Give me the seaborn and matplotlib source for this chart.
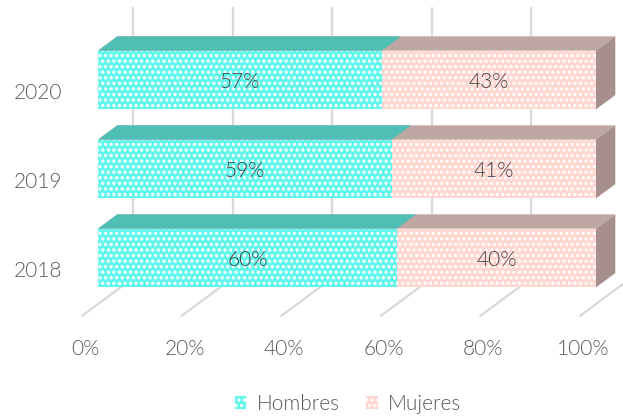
import matplotlib
matplotlib.use("Agg")
import pandas as pd
import seaborn as sns
from matplotlib import pyplot as plt, transforms
from matplotlib.patches import Patch, Polygon

# data
years = ["2020", "2019", "2018"]
hombres = [57, 59, 60]
mujeres = [43, 41, 40]
series = ["Hombres", "Mujeres"]
x_ticks = [0, 20, 40, 60, 80, 100]
x_tick_labels = ["0%", "20%", "40%", "60%", "80%", "100%"]

# styling
front = {"Hombres": "#5ff6ec", "Mujeres": "#ffd6d0"}
top = {"Hombres": "#4fbfb6", "Mujeres": "#bea6a2"}
side = {"Mujeres": "#a68f8c"}
grid_color = "#d9d9d9"
text_color = "#595959"
label_color = "#404040"

sns.set_style("white")
plt.rcParams["font.family"] = ["Lato", "DejaVu Sans"]
plt.rcParams["font.weight"] = 300
plt.rcParams["hatch.linewidth"] = 1.6

W, H = 623, 419
fig = plt.figure(figsize=(W / 100, H / 100), dpi=100)
ax = fig.add_axes([98 / W, 1 - 347 / H, 498 / W, (347 - 13.25) / H])

df = pd.DataFrame({"year": years, "Hombres": hombres, "Mujeres": mujeres})
df["total"] = df["Hombres"] + df["Mujeres"]

bar_kw = dict(orient="h", saturation=1, width=0.66, edgecolor="white",
              linewidth=0, hatch="...", ax=ax)
sns.barplot(data=df, x="total", y="year", color=front["Mujeres"], **bar_kw)
sns.barplot(data=df, x="Hombres", y="year", color=front["Hombres"], **bar_kw)

ax.set_xlim(0, 100)
ax.set_ylim(3.0, -0.75)
ax.axis("off")

# pixel -> data helpers for the fake 3D depth
px_x = ax.bbox.width / 100
px_y = ax.bbox.height / 3.75


def depth(z):
    return z / px_x, -0.74 * z / px_y


# back wall gridlines and floor lines
floor_front_y = 2.65
wall_dx, wall_dy = depth(35)
ff_dx, ff_dy = depth(-16)
floor_back_y = floor_front_y - ff_dy + wall_dy
for v in x_ticks:
    ax.plot([v + wall_dx, v + wall_dx], [floor_back_y, -0.81],
            color=grid_color, lw=1.6, zorder=0, clip_on=False)
    ax.plot([v + ff_dx, v + wall_dx], [floor_front_y, floor_back_y],
            color=grid_color, lw=1.6, zorder=0, clip_on=False)

# top and side faces
bars = list(ax.patches)
n = len(years)
dx, dy = depth(19.3)
for i, bar in enumerate(bars):
    name = "Mujeres" if i < n else "Hombres"
    x0, y0 = bar.get_x(), bar.get_y()
    w, h = bar.get_width(), bar.get_height()
    bar.set_zorder(2)
    ax.add_patch(Polygon([(x0, y0), (x0 + w, y0), (x0 + w + dx, y0 + dy), (x0 + dx, y0 + dy)],
                         closed=True, facecolor=top[name], edgecolor="none",
                         zorder=1.5 + 0.1 * (i >= n), clip_on=False))
    if name in side:
        ax.add_patch(Polygon([(x0 + w, y0), (x0 + w, y0 + h), (x0 + w + dx, y0 + h + dy),
                              (x0 + w + dx, y0 + dy)],
                             closed=True, facecolor=side[name], edgecolor="none",
                             zorder=1.5, clip_on=False))

# value labels
for i, (hv, mv) in enumerate(zip(hombres, mujeres)):
    ax.text(hv / 2, i + 0.02, f"{hv}%", ha="center", va="center", fontsize=15,
            color=label_color, zorder=5)
    ax.text(hv + mv / 2, i + 0.02, f"{mv}%", ha="center", va="center", fontsize=15,
            color=label_color, zorder=5)

# axis labels
xlab_tr = transforms.offset_copy(ax.transData, fig=fig, x=-13, y=0, units="dots")
for v, lab in zip(x_ticks, x_tick_labels):
    ax.text(v, 3.02, lab, transform=xlab_tr, ha="center", va="center",
            fontsize=15, color=text_color, clip_on=False)
ylab_tr = transforms.offset_copy(ax.transData, fig=fig, x=-36, y=-13, units="dots")
for i, yr in enumerate(years):
    ax.text(0, i, yr, transform=ylab_tr, ha="right", va="center",
            fontsize=15, color=text_color, clip_on=False)

# legend
handles = [Patch(facecolor=front[s], edgecolor="white", linewidth=0, hatch="...") for s in series]
fig.legend(handles, series, loc="center", bbox_to_anchor=(348 / W, 15 / H), ncol=2,
           frameon=False, fontsize=15, handlelength=0.55, handleheight=0.55,
           handletextpad=0.5, columnspacing=1.3, labelcolor=text_color)

fig.savefig("out.png", dpi=100)
